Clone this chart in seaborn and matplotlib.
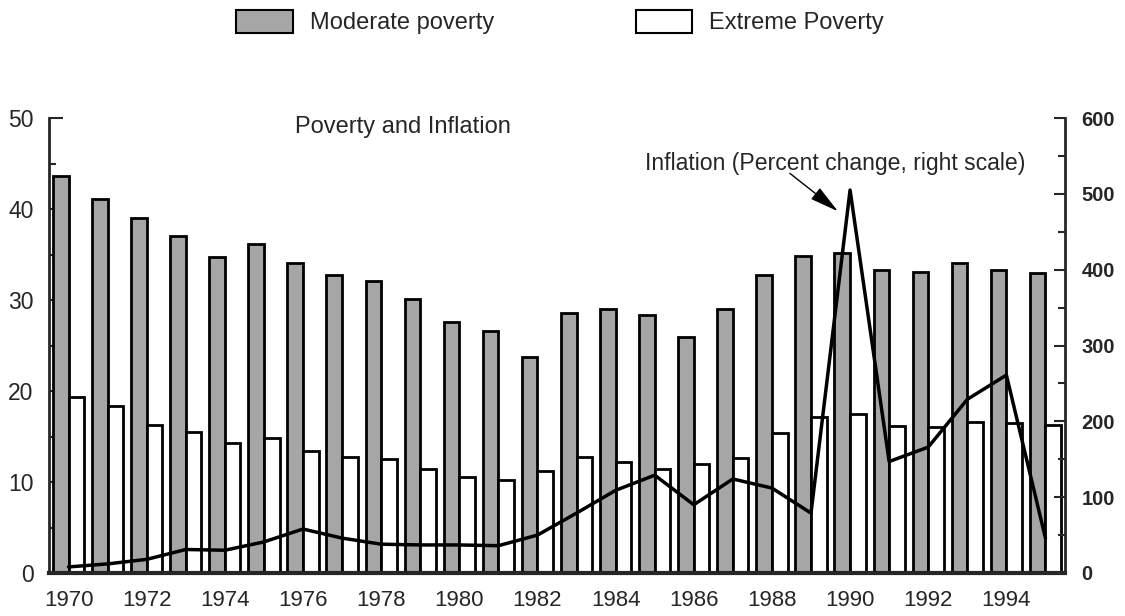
# Pauvreté et inflation, 1970-1995 : barres (échelle gauche) + courbe d'inflation (échelle droite)

import numpy as np
import pandas as pd
import matplotlib.pyplot as plt
import matplotlib.ticker as ticker
from matplotlib.patches import Patch
import seaborn as sns


years = list(range(1970, 1996))
moderate = [43.6, 41.1, 39.0, 37.0, 34.7, 36.2, 34.1, 32.7, 32.1, 30.1, 27.6, 26.6, 23.7,
            28.6, 29.0, 28.3, 25.9, 29.0, 32.8, 34.8, 35.2, 33.3, 33.1, 34.1, 33.3, 33.0]
extreme = [19.3, 18.3, 16.3, 15.5, 14.3, 14.8, 13.4, 12.7, 12.5, 11.4, 10.5, 10.2, 11.2,
           12.8, 12.2, 11.4, 12.0, 12.6, 15.4, 17.1, 17.5, 16.1, 16.0, 16.6, 16.5, 16.3]
inflation = [8, 12, 18, 31, 30, 41, 58, 46, 38, 37, 37, 36, 50,
             79, 109, 129, 90, 124, 112, 79, 505, 147, 166, 229, 261, 46]
series_names = ["Moderate poverty", "Extreme Poverty"]
year_labels = [str(y) for y in years[::2]]

GRAY = "#a6a6a6"
FS = 17

sns.set_style("ticks")
plt.rcParams["font.family"] = ["Liberation Sans", "DejaVu Sans"]
plt.rcParams["font.size"] = FS

df = pd.DataFrame({
    "year": years * 2,
    "value": moderate + extreme,
    "series": [series_names[0]] * len(years) + [series_names[1]] * len(years),
})

fig = plt.figure(figsize=(11.25, 6.16), dpi=100)
ax = fig.add_axes([49 / 1125, 1 - 573 / 616, (1065 - 49) / 1125, (573 - 118) / 616])

sns.barplot(data=df, x="year", y="value", hue="series", hue_order=series_names,
            palette=[GRAY, "white"], edgecolor="black", linewidth=2,
            saturation=1, legend=False, ax=ax)

ax.set_xlim(-0.5, len(years) - 0.5)
ax.set_ylim(0, 50)
ax.set_xticks(range(0, len(years), 2))
ax.set_xticklabels(year_labels, fontsize=16)
ax.tick_params(axis="x", length=0, pad=12)
ax.yaxis.set_major_locator(ticker.MultipleLocator(10))
ax.yaxis.set_minor_locator(ticker.MultipleLocator(5))
ax.tick_params(axis="y", which="major", direction="in", length=10, width=1.5,
               pad=11, labelsize=16.5)
ax.tick_params(axis="y", which="minor", direction="in", length=5, width=1.5)
ax.set_xlabel("")
ax.set_ylabel("")
ax.spines["top"].set_visible(False)
ax.spines["right"].set_visible(False)
ax.spines["left"].set_linewidth(2)
ax.spines["bottom"].set_linewidth(3)

# Courbe d'inflation sur l'axe de droite
ax2 = ax.twinx()
sns.lineplot(x=np.arange(len(years)), y=inflation, color="black", linewidth=2.5, ax=ax2)
ax2.set_ylim(0, 600)
ax2.set_xlim(-0.5, len(years) - 0.5)
ax2.yaxis.set_major_locator(ticker.MultipleLocator(100))
ax2.yaxis.set_minor_locator(ticker.MultipleLocator(50))
ax2.tick_params(axis="y", which="major", direction="in", length=8, width=1.5,
                pad=12, labelsize=14.5)
ax2.tick_params(axis="y", which="minor", direction="in", length=5, width=1.5)
for lbl in ax2.get_yticklabels():
    lbl.set_fontweight("bold")
for side in ["top", "left", "bottom"]:
    ax2.spines[side].set_visible(False)
ax2.spines["right"].set_linewidth(2)

ax.text(5.8, 48.35, "Poverty and Inflation", ha="left", va="baseline", fontsize=FS)
ax2.text(14.75, 531, "Inflation (Percent change, right scale)",
         ha="left", va="baseline", fontsize=16.6)
ax2.annotate("", xy=(19.69, 477), xytext=(18.46, 527),
             arrowprops=dict(arrowstyle="-|>,head_length=0.9,head_width=0.22",
                             color="black", lw=1, mutation_scale=20,
                             shrinkA=0, shrinkB=0))

handles = [Patch(facecolor=GRAY, edgecolor="black", linewidth=1.5),
           Patch(facecolor="white", edgecolor="black", linewidth=1.5)]
fig.legend(handles, series_names, loc="center", bbox_to_anchor=(0.498, 0.964),
           ncol=2, frameon=False, handlelength=2.4, handleheight=1.1,
           columnspacing=6.0, handletextpad=0.72, fontsize=FS)

fig.savefig("out.png", dpi=100)
